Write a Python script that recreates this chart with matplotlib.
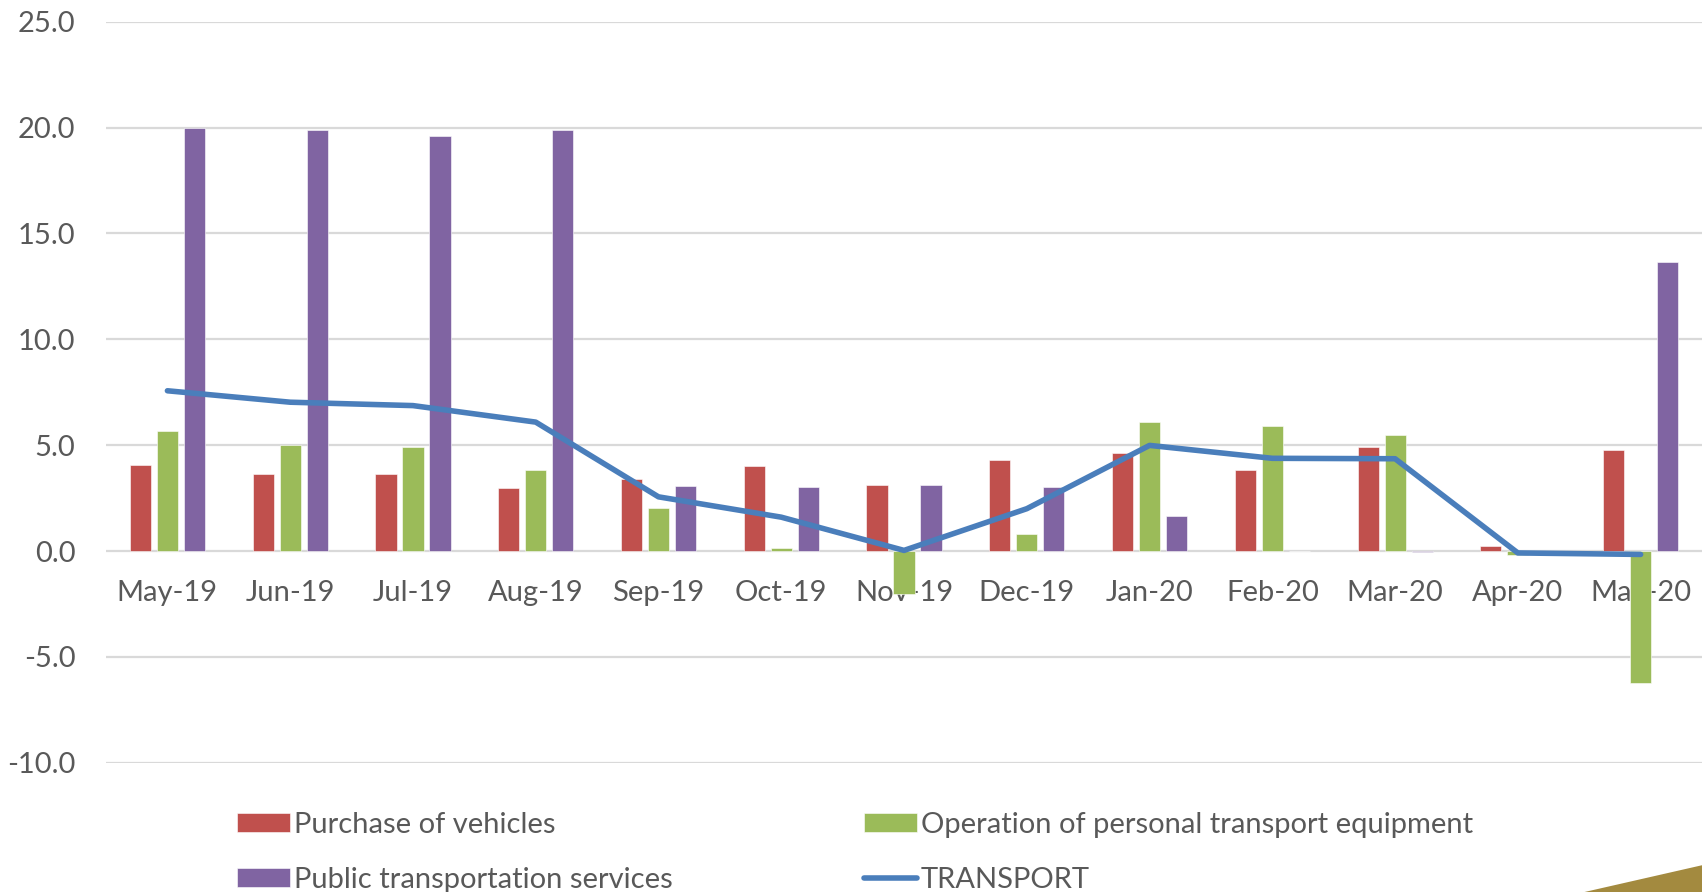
import matplotlib.pyplot as plt
import numpy as np
from matplotlib.patches import Polygon

plt.rcParams['font.family'] = ['Lato', 'DejaVu Sans']

months = ["May-19", "Jun-19", "Jul-19", "Aug-19", "Sep-19", "Oct-19", "Nov-19",
          "Dec-19", "Jan-20", "Feb-20", "Mar-20", "Apr-20", "May-20"]
purchase = [4.07, 3.63, 3.62, 2.96, 3.39, 4.01, 3.12, 4.32, 4.61, 3.84, 4.90, 0.25, 4.79]
operation = [5.69, 5.03, 4.90, 3.83, 2.02, 0.14, -2.02, 0.79, 6.09, 5.92, 5.46, -0.20, -6.24]
public = [19.97, 19.88, 19.60, 19.87, 3.08, 3.01, 3.14, 3.03, 1.64, 0.02, -0.03, 0.0, 13.65]
transport = [7.57, 7.03, 6.87, 6.09, 2.56, 1.60, 0.03, 2.00, 4.99, 4.38, 4.36, -0.09, -0.16]

red = "#C0504D"
green = "#9BBB59"
purple = "#8064A2"
blue = "#4A7EBB"
grey = "#595959"

fig = plt.figure(figsize=(17.02, 8.92), dpi=100)
ax = fig.add_axes([0.0623, 0.1449, 0.9377, 0.8307])

x = np.arange(len(months))
w = 0.172
step = 0.22
b1 = ax.bar(x - step, purchase, w, color=red, edgecolor="white", linewidth=0.4, zorder=2,
            label="Purchase of vehicles")
b2 = ax.bar(x, operation, w, color=green, edgecolor="white", linewidth=0.4, zorder=2,
            label="Operation of personal transport equipment")
b3 = ax.bar(x + step, public, w, color=purple, edgecolor="white", linewidth=0.4, zorder=2,
            label="Public transportation services")
ln, = ax.plot(x, transport, color=blue, linewidth=4.0, zorder=3, label="TRANSPORT",
              solid_capstyle="round")

ax.set_xlim(-0.5, len(months) - 0.5)
ax.set_ylim(-10, 25)
ax.set_yticks(np.arange(-10, 26, 5))
ax.set_yticklabels([f"{v:.1f}" for v in np.arange(-10, 26, 5)])
ax.yaxis.grid(True, color="#D9D9D9", linewidth=1.6, zorder=0)
ax.set_axisbelow(True)

ax.set_xticks(x)
ax.set_xticklabels(months)
ax.spines['bottom'].set_position(('data', 0))
for s in ax.spines.values():
    s.set_visible(False)
ax.tick_params(axis='both', length=0, labelsize=21, labelcolor=grey)
ax.tick_params(axis='x', pad=21)
ax.tick_params(axis='y', pad=22)

handles = [b1, b3, b2, ln]
fig.legend(handles, [h.get_label() for h in handles], ncol=2, frameon=False,
           loc='upper left', bbox_to_anchor=(0.1395, 0.090), fontsize=21,
           labelcolor=grey, handlelength=1.8, handleheight=0.62, handletextpad=0.15,
           columnspacing=6.55, labelspacing=1.0, borderpad=0, borderaxespad=0)

fig.patches.append(Polygon([[0.931, 0.0], [1.0, 0.03], [1.0, 0.0]], closed=True,
                           transform=fig.transFigure, facecolor="#A38A3F",
                           edgecolor="none"))

fig.savefig("out.png", dpi=100, facecolor="white")
